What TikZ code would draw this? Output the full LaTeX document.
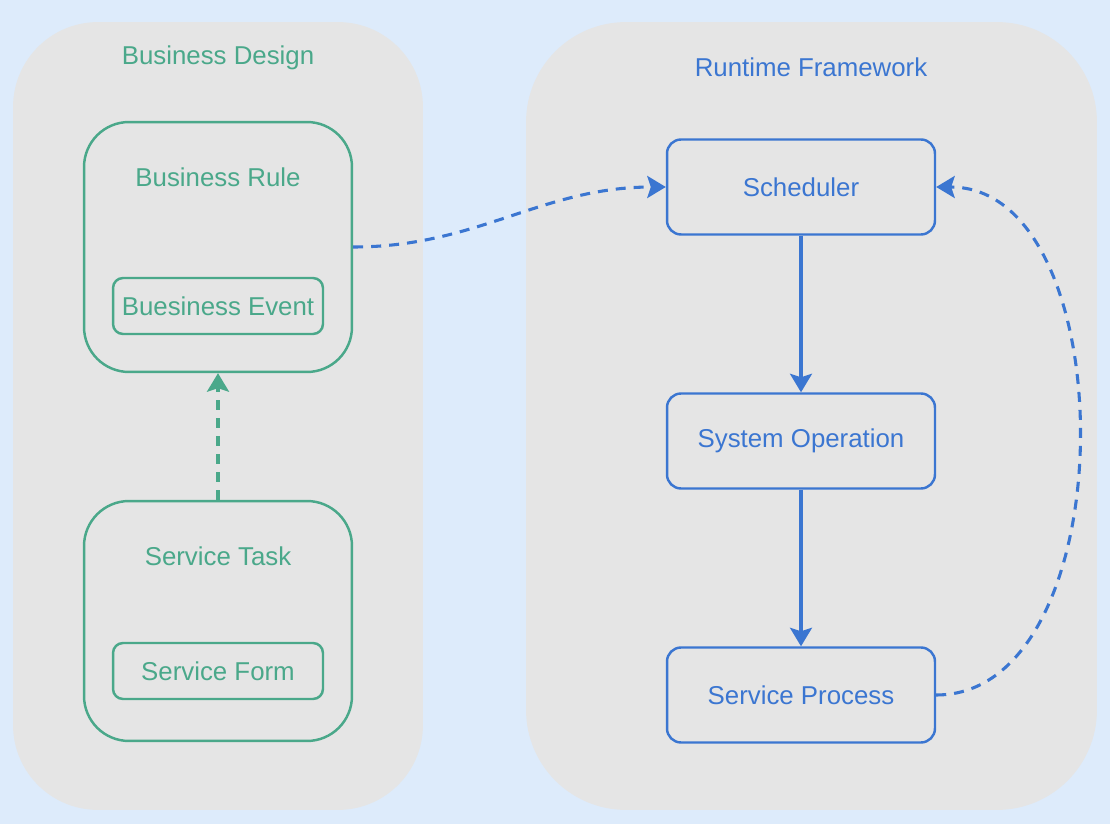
\documentclass[tikz,border=0pt]{standalone}
\usepackage{fontspec}
\setmainfont{Liberation Sans}
\usetikzlibrary{arrows.meta}
\definecolor{bgblue}{HTML}{DDEBFB}
\definecolor{clgray}{HTML}{E5E5E5}
\definecolor{bgreen}{HTML}{4AA88A}
\definecolor{rblue}{HTML}{3B76D1}
\tikzstyle{cluster}=[draw=none,fill=clgray,minimum height=15.76cm]
\tikzstyle{group}=[draw=bgreen,line width=1.4pt,rounded corners=0.9cm,minimum width=5.36cm]
\tikzstyle{item}=[draw=bgreen,text=bgreen,line width=1.4pt,rounded corners=0.2cm,minimum width=4.2cm,minimum height=1.12cm]
\tikzstyle{task}=[draw=rblue,text=rblue,line width=1.4pt,rounded corners=0.28cm,minimum width=5.36cm,minimum height=1.9cm]
\tikzstyle{link}=[draw,line width=1.75pt,-{Stealth[length=0.37cm,width=0.44cm,inset=0.07cm]}]
\tikzstyle{dashlink}=[link,dash pattern=on 0.2cm off 0.16cm]

\begin{document}
\begin{tikzpicture}[x=0.02cm,y=-0.02cm,font=\fontsize{14.7}{17}\selectfont]
                \useasboundingbox[fill=bgblue] (0,0) rectangle (1110,824);
                \node[cluster,rounded corners=1.7cm,minimum width=8.2cm] (BD) at (218,416) {};
                \node[cluster,rounded corners=2cm,minimum width=11.42cm] (RF) at (811.5,416) {};
                \node[text=bgreen] (BDt) at (218,58) {Business Design};
                \node[text=rblue] (RFt) at (811,67) {Runtime Framework};
                % business design
                \node[group,minimum height=5cm] (BR) at (218,247) {};
                \node[text=bgreen] (BRt) at (218,177) {Business Rule};
                \node[item] (BE) at (218,306) {Buesiness Event};
                \node[group,minimum height=4.8cm] (ST) at (218,621) {};
                \node[text=bgreen] (STt) at (218,556) {Service Task};
                \node[item] (SF) at (218,671) {Service Form};
                % runtime framework
                \node[task] (SCH) at (801,187) {Scheduler};
                \node[task] (SO) at (801,441) {System Operation};
                \node[task] (SP) at (801,695) {Service Process};
                \path[dashlink,bgreen] (ST.north) -- (BR.south);
                \path[dashlink,rblue] (BR.east) to[out=0,in=180] (SCH.west);
                \path[link,rblue] (SCH) -- (SO);
                \path[link,rblue] (SO) -- (SP);
                \path[dashlink,rblue] (SP.east) .. controls +(190,0) and +(190,0) .. (SCH.east);
            \end{tikzpicture}
\end{document}
